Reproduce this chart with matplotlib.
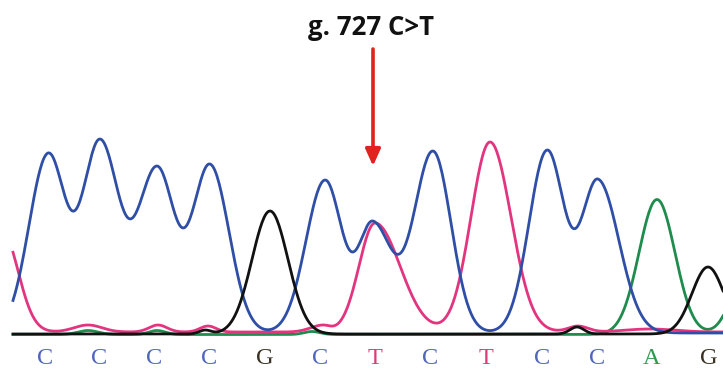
import numpy as np
import matplotlib
matplotlib.use("Agg")
import matplotlib.pyplot as plt

# ---------------- data ----------------
# Peak apexes: position along the trace, height above baseline, left/right widths
c_pos = [48, 100, 157, 210, 325, 373, 433, 547, 598]
c_h   = [180, 194, 167, 169, 153, 112, 182, 183, 154]
c_wl  = [19, 17.5, 19, 17.5, 19, 14.5, 19, 18, 16.5]
c_wr  = [17.5, 19, 17.5, 19, 17, 19, 18, 17, 21]

t_pos = [2, 88, 158, 208, 322, 375, 490, 578, 650]
t_h   = [101, 7, 7, 6, 7, 109, 190, 6, 3]
t_wl  = [16, 14, 9, 8, 12, 16, 19, 10, 25]
t_wr  = [16, 14, 9, 8, 8, 25, 21, 10, 25]

g_pos = [205, 270, 577, 708]
g_h   = [4, 123, 7, 67]
g_wl  = [6, 18, 7, 16]
g_wr  = [6, 18, 7, 16]

a_pos = [88, 157, 312, 657, 757]
a_h   = [4, 4, 3, 135, 110]
a_wl  = [10, 8, 8, 18, 18]
a_wr  = [10, 8, 8, 18, 18]

bases      = ["C", "C", "C", "C", "G", "C", "T", "C", "T", "C", "C", "A", "G"]
base_x     = [45, 99, 154, 209, 265, 320, 375, 430, 486, 542, 597, 652, 709]
title_text = "g. 727 C>T"
arrow_x    = 373

colors = {"C": "#2f4fa6", "T": "#e3357f", "G": "#111111", "A": "#1f8c4e"}
letter_colors = {"C": "#5166bb", "T": "#df3a78", "G": "#3a3222", "A": "#2f9a4e"}

# ---------------- build traces ----------------
x = np.arange(13, 724, 1.0)


def split_gauss(xx, mu, wl, wr):
    w = np.where(xx < mu, wl, wr)
    return np.exp(-0.5 * ((xx - mu) / w) ** 2)


def trace(pos, h, wl, wr):
    pos = np.asarray(pos, float)
    M = np.array([[split_gauss(np.array([p]), q, l, r)[0]
                   for q, l, r in zip(pos, wl, wr)] for p in pos])
    amp = np.linalg.solve(M, np.asarray(h, float))
    y = np.zeros_like(x)
    for a, q, l, r in zip(amp, pos, wl, wr):
        y += a * split_gauss(x, q, l, r)
    return y


y_c = trace(c_pos, c_h, c_wl, c_wr)
y_t = trace(t_pos, t_h, t_wl, t_wr)
y_g = trace(g_pos, g_h, g_wl, g_wr)
y_a = trace(a_pos, a_h, a_wl, a_wr)

# ---------------- figure ----------------
fig = plt.figure(figsize=(7.23, 3.70), dpi=100)
ax = fig.add_axes([0, 0, 1, 1])
ax.set_xlim(0, 723)
ax.set_ylim(333 - 370, 333)   # pixel-like: baseline at image row 333
ax.axis("off")

lw = 2.0
ax.plot(x, y_a - 1.5, color=colors["A"], lw=lw, zorder=2)
ax.plot(x, y_t + 1.0, color=colors["T"], lw=lw, zorder=3)
ax.plot(x, y_c, color=colors["C"], lw=lw, zorder=4)
ax.plot(x, y_g - 1.0, color=colors["G"], lw=lw, zorder=5)

for b, bx in zip(bases, base_x):
    ax.text(bx, 333 - 364, b, color=letter_colors[b], ha="center", va="baseline",
            fontsize=17.5, family="Liberation Serif")

ax.text(371, 333 - 35, title_text, ha="center", va="baseline", fontsize=18.5,
        fontweight="bold", family="Open Sans", color="#111111")

ax.annotate("", xy=(arrow_x, 333 - 166), xytext=(arrow_x, 333 - 49),
            arrowprops=dict(arrowstyle="-|>,head_length=1.0,head_width=0.45",
                            color="#e0231f", lw=2.6, shrinkA=0, shrinkB=0))

fig.savefig("out.png", dpi=100)
